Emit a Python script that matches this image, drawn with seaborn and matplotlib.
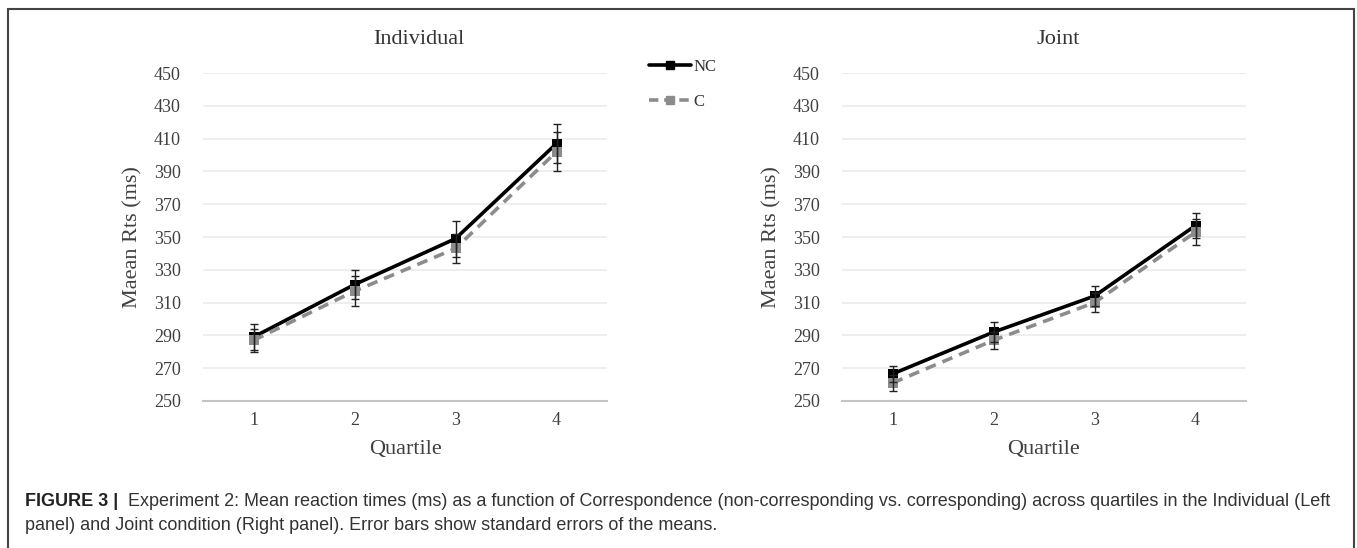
import numpy as np
import pandas as pd
import matplotlib
matplotlib.use("Agg")
import matplotlib.pyplot as plt
import seaborn as sns
from matplotlib.patches import Rectangle
from matplotlib.lines import Line2D

# data
quartiles = [1, 2, 3, 4]
conditions = ["NC", "C"]

ind_nc = [289, 321, 349, 407]
ind_nc_se = [8, 9, 11, 12]
ind_c = [287, 317, 343, 402]
ind_c_se = [7, 9, 9, 12]

joint_nc = [266.5, 292, 314, 357]
joint_nc_se = [5, 6, 6, 7.5]
joint_c = [261, 287, 310, 353]
joint_c_se = [5, 5, 6, 8]

y_ticks = list(range(250, 451, 20))

W, H = 1357, 548

sns.set_theme(style="white")
plt.rcParams["font.family"] = ["Liberation Serif", "DejaVu Serif"]

colors = {"NC": "#000000", "C": "#8c8c8c"}


def make_df(nc, nc_se, c, c_se):
    return pd.DataFrame({
        "Quartile": quartiles * 2,
        "Condition": ["NC"] * 4 + ["C"] * 4,
        "RT": nc + c,
        "SE": nc_se + c_se,
    })


panels = [
    ("Individual", make_df(ind_nc, ind_nc_se, ind_c, ind_c_se), 203),
    ("Joint", make_df(joint_nc, joint_nc_se, joint_c, joint_c_se), 842),
]

fig = plt.figure(figsize=(W / 100, H / 100), dpi=100)

for title, df, x0 in panels:
    ax = fig.add_axes([x0 / W, 1 - 401 / H, 404 / W, (401 - 73) / H])
    sns.lineplot(data=df, x="Quartile", y="RT", hue="Condition", style="Condition",
                 hue_order=conditions, style_order=conditions, palette=colors,
                 markers={"NC": "s", "C": "s"}, dashes={"NC": "", "C": (3.0, 2.0)},
                 linewidth=2.6, markersize=7, markeredgewidth=0, errorbar=None,
                 legend=False, ax=ax)
    for cond in conditions:
        sub = df[df["Condition"] == cond]
        ax.errorbar(sub["Quartile"], sub["RT"], yerr=sub["SE"], fmt="none",
                    ecolor="#222222", elinewidth=1.0, capsize=3, capthick=1.0)

    ax.set_xlim(0.5, 4.5)
    ax.set_ylim(250, 450)
    ax.set_xticks(quartiles)
    ax.set_yticks(y_ticks)
    ax.yaxis.grid(True, color="#ebebeb", linewidth=1.2)
    ax.set_axisbelow(True)
    for s in ["top", "right", "left"]:
        ax.spines[s].set_visible(False)
    ax.spines["bottom"].set_color("#c4c4c4")
    ax.spines["bottom"].set_linewidth(1.5)
    ax.tick_params(axis="both", length=0, labelsize=13, colors="#404040")
    ax.tick_params(axis="y", pad=16)
    ax.tick_params(axis="x", pad=8)
    ax.set_xlabel("Quartile", fontsize=16, color="#404040", labelpad=8)
    ax.set_ylabel("Maean Rts (ms)", fontsize=16, color="#404040", labelpad=8)
    fig.text((x0 + 216) / W, 1 - 40 / H, title, fontsize=16, color="#333333",
             ha="center", va="center")

# shared legend between the panels
handles = [
    Line2D([], [], color=colors["NC"], linewidth=2.6, marker="s", markersize=6),
    Line2D([], [], color=colors["C"], linewidth=2.6, marker="s", markersize=6,
           dashes=(2.6, 1.6)),
]
fig.legend(handles, conditions, loc="upper left",
           bbox_to_anchor=(634 / W, 1 - 44 / H), frameon=False, fontsize=12,
           handlelength=2.5, handletextpad=0.15, labelspacing=1.15,
           labelcolor="#333333")

# caption
cap_size = 13.5
head = fig.text(25 / W, 1 - 502 / H, "FIGURE 3 |", fontsize=cap_size,
                family="Liberation Sans", fontweight="bold", color="#222222",
                va="center")
caption_1 = ("Experiment 2: Mean reaction times (ms) as a function of Correspondence "
             "(non-corresponding vs. corresponding) across quartiles in the Individual (Left")
caption_2 = ("panel) and Joint condition (Right panel). Error bars show standard errors "
             "of the means.")
renderer = fig.canvas.get_renderer()
line_1 = fig.text(128 / W, 1 - 502 / H, caption_1, fontsize=cap_size,
                  family="Liberation Sans", color="#333333", va="center")
# shrink the caption so the first line ends where the reference wraps
width = line_1.get_window_extent(renderer).width
cap_size = cap_size * (1326 - 128) / width
line_1.set_fontsize(cap_size)
head.set_fontsize(cap_size)
fig.text(25 / W, 1 - 526 / H, caption_2, fontsize=cap_size, family="Liberation Sans",
         color="#333333", va="center")

# frame around the figure
fig.add_artist(Rectangle((8 / W, -0.1), (1354 - 8) / W, 1.1 - 9 / H,
                         transform=fig.transFigure, fill=False,
                         edgecolor="#444444", linewidth=1.5))

fig.savefig("out.png", dpi=100)
